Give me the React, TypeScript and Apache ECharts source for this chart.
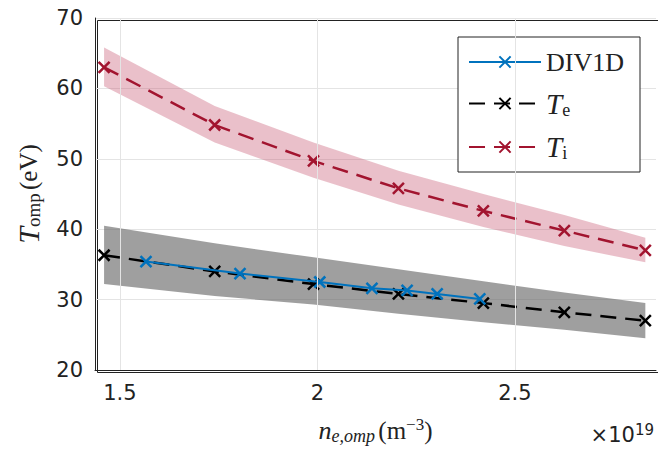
import React, { useEffect, useRef } from "react";
import * as echarts from "echarts";

const xTe = [1.46, 1.74, 1.99, 2.205, 2.42, 2.625, 2.83];
const te = [36.3, 34.0, 32.2, 30.8, 29.5, 28.2, 27.0];
const ti = [63.0, 54.8, 49.7, 45.8, 42.6, 39.8, 37.0];
const teUp = [40.5, 38.0, 36.0, 34.3, 32.6, 31.0, 29.5];
const teLo = [32.2, 30.5, 29.3, 28.0, 26.8, 25.7, 24.5];
const tiUp = [65.8, 57.5, 52.3, 48.3, 45.0, 42.0, 38.8];
const tiLo = [60.3, 52.3, 47.3, 43.5, 40.3, 37.6, 35.3];
const xDiv = [1.566, 1.804, 2.006, 2.138, 2.227, 2.303, 2.411];
const div = [35.4, 33.7, 32.5, 31.6, 31.3, 30.8, 30.1];
const xTicks = [1.5, 2, 2.5];

function band(xs: number[], up: number[], lo: number[], color: string) {
  return {
    type: "custom",
    silent: true,
    z: 1,
    data: [0],
    renderItem: (_p: any, api: any) => {
      const pts: number[][] = [];
      xs.forEach((x, i) => pts.push(api.coord([x, up[i]])));
      for (let i = xs.length - 1; i >= 0; i--) pts.push(api.coord([xs[i], lo[i]]));
      return { type: "polygon", shape: { points: pts }, style: { fill: color } };
    },
  };
}

export default function App() {
  const ref = useRef<HTMLDivElement>(null);
  useEffect(() => {
    const c = echarts.init(ref.current!, null, { renderer: "svg" });
    const sym = { symbol: "path://M0,0L10,10M10,0L0,10", symbolSize: 11 };
    c.setOption({
      animation: false,
      grid: { left: 95, right: 2, top: 18, bottom: 89 },
      xAxis: {
        type: "value", min: 1.437, max: 2.857,
        axisLabel: { fontFamily: "DejaVu Sans", fontSize: 21, color: "#222", margin: 12,
          customValues: xTicks, formatter: (v: number) => String(v) },
        axisTick: { show: false },
        axisLine: { lineStyle: { color: "#222" } },
        splitLine: { show: false },
        name: "{i|n}{s|e,omp} {n|(m}{sup|−3}{n|)}", nameLocation: "middle", nameGap: 46,
        nameTextStyle: { rich: {
          i: { fontFamily: "Liberation Serif", fontStyle: "italic", fontSize: 26, color: "#222" },
          s: { fontFamily: "Liberation Serif", fontStyle: "italic", fontSize: 18, color: "#222", padding: [10, 0, 0, 0] },
          n: { fontFamily: "Liberation Serif", fontSize: 25, color: "#222" },
          sup: { fontFamily: "Liberation Serif", fontSize: 17, color: "#222", padding: [0, 0, 12, 0] },
        } },
      },
      yAxis: {
        type: "value", min: 20, max: 70, interval: 10,
        axisLabel: { fontFamily: "DejaVu Sans", fontSize: 21, color: "#222", margin: 12 },
        axisTick: { show: false },
        axisLine: { show: true, lineStyle: { color: "#222" } },
        splitLine: { lineStyle: { color: "#e4e4e4" } },
        name: "{i|T}{s|omp} {n|(eV)}", nameLocation: "middle", nameGap: 52, nameRotate: 90,
        nameTextStyle: { rich: {
          i: { fontFamily: "Liberation Serif", fontStyle: "italic", fontSize: 30, color: "#222" },
          s: { fontFamily: "Liberation Serif", fontSize: 19, color: "#222", padding: [10, 0, 0, 0] },
          n: { fontFamily: "Liberation Serif", fontSize: 25, color: "#222" },
        } },
      },
      legend: {
        right: 18, top: 37, orient: "vertical", itemWidth: 72, itemHeight: 14, itemGap: 14,
        backgroundColor: "#fff", borderColor: "#222", borderWidth: 1, padding: [12, 16, 10, 10],
        data: ["DIV1D", "Te", "Ti"],
        formatter: (n: string) => n === "DIV1D" ? "{n|DIV1D}" : n === "Te" ? "{i|T}{s|e}" : "{i|T}{s|i}",
        textStyle: { rich: {
          n: { fontFamily: "Liberation Serif", fontSize: 26, color: "#222" },
          i: { fontFamily: "Liberation Serif", fontStyle: "italic", fontSize: 29, color: "#222" },
          s: { fontFamily: "Liberation Serif", fontSize: 18, color: "#222", padding: [12, 0, 0, 0] },
        } },
      },
      graphic: [
        { type: "rect", left: 95, top: 18, shape: { width: 561, height: 352 }, style: { fill: "none", stroke: "#222", lineWidth: 1 }, silent: true },
        { type: "text", right: 4, top: 422, style: { rich: {
          a: { fontFamily: "DejaVu Sans", fontSize: 21, fill: "#222" },
          b: { fontFamily: "DejaVu Sans", fontSize: 15, fill: "#222", padding: [0, 0, 10, 0] } },
          text: "{a|×10}{b|19}" } },
      ],
      series: [
        { type: "line", data: [], silent: true, z: 0,
          markLine: { silent: true, symbol: "none", label: { show: false },
            lineStyle: { color: "#e4e4e4", type: "solid", width: 1 },
            data: xTicks.map((x) => ({ xAxis: x })) } },
        band(xTe, teUp, teLo, "rgba(100,100,100,0.62)"),
        band(xTe, tiUp, tiLo, "rgba(200,90,115,0.38)"),
        { name: "Te", type: "line", data: xTe.map((x, i) => [x, te[i]]), ...sym, z: 3,
          color: "#000", lineStyle: { color: "#000", width: 2.5, type: [16, 9] }, itemStyle: { borderColor: "#000", borderWidth: 2.5 } },
        { name: "Ti", type: "line", data: xTe.map((x, i) => [x, ti[i]]), ...sym, z: 3,
          color: "#a2142f", lineStyle: { color: "#a2142f", width: 2.5, type: [16, 9] }, itemStyle: { borderColor: "#a2142f", borderWidth: 2.5 } },
        { name: "DIV1D", type: "line", data: xDiv.map((x, i) => [x, div[i]]), ...sym, z: 4,
          color: "#0072bd", lineStyle: { color: "#0072bd", width: 2 }, itemStyle: { borderColor: "#0072bd", borderWidth: 2.5 } },
      ],
    });
    return () => c.dispose();
  }, []);
  return <div ref={ref} style={{ width: 658, height: 459, position: "absolute", left: 0, top: 0 }} />;
}
